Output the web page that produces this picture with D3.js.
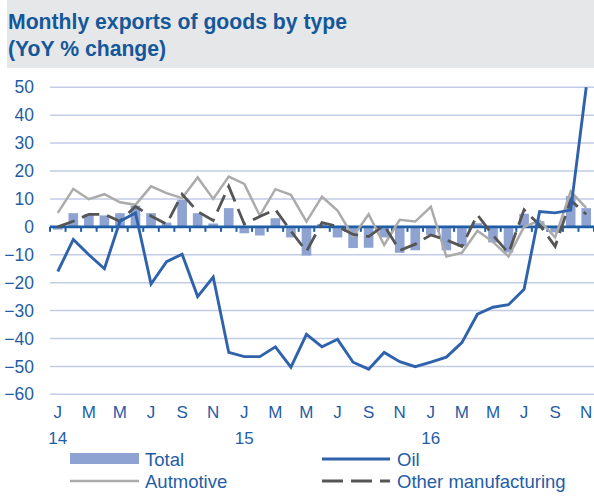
<!DOCTYPE html>
<html>
<head>
<meta charset="utf-8">
<script src="https://cdn.jsdelivr.net/npm/d3@7"></script>
<style>
  html, body { margin: 0; padding: 0; background: #ffffff; }
  svg { display: block; font-family: "Liberation Sans", Arial, sans-serif; }
</style>
</head>
<body>
<svg id="chart" width="594" height="501"></svg>
<script>
// Monthly year-on-year % change, Jan 2014 .. Nov 2016
const months = d3.range(35).map(i => new Date(2014, i, 1));
const monthLetters = ["J","F","M","A","M","J","J","A","S","O","N","D"];

const total = [-1, 4.9, 4.5, 4.1, 4.9, 7.6, 4.9, 1.5, 9.7, 4.9, 1.2, 6.7,
               -2.3, -3.1, 3.1, -3.8, -10.3, 1, -3.8, -7.6, -7.5, -3.8, -9.3, -8.4,
               -2.9, -8.4, -7, 1.3, -5.6, -9.2, 4.7, 2, -2, 11, 6.7];
const oil = [-16, -4.5, -10, -15, 2, 5, -20.5, -12.5, -9.8, -25, -18, -45,
             -46.5, -46.5, -43, -50.3, -38.5, -43, -40.3, -48.5, -51, -45, -48.3, -50.1,
             -48.5, -46.7, -41.5, -31.3, -28.8, -27.9, -22.4, 5.5, 5, 6, 50];
const automotive = [5, 13.6, 9.9, 11.7, 8.8, 7.9, 14.5, 12.1, 10.3, 17.7, 10, 18,
                    15.4, 4, 13.5, 11.5, 1.9, 10.8, 5.8, -3.5, 4.5, -6.5, 2.5, 1.9,
                    7.2, -10.6, -9.3, -1.4, -5.4, -10.6, 0, 2.2, -3.8, 12.7, 6.8];
const otherMfg = [0, 2, 4.5, 4.5, 2, 7.3, 3.9, 1, 11.7, 5.5, 2.3, 14.5,
                  1, 3.7, 6.2, -1.5, -8.8, 1.5, 0.2, -2.7, -3.5, 0.5, -8.5, -6.2,
                  -2.9, -4.7, -7, 4.3, -3, -9.4, 6.1, 0.7, -7, 9.5, 4.5];

const yTicks = [50, 40, 30, 20, 10, 0, -10, -20, -30, -40, -50, -60];
const yearLabels = ["14", "15", "16"];

const svg = d3.select("#chart");
const W = 594, H = 501;
const plot = { left: 50, right: 594, top: 87.3, bottom: 394.3 };

const blue = "#1f5da6";
const gridColor = "#c3cbe5";

// title block
svg.append("rect").attr("x", 7).attr("y", 0).attr("width", W - 7).attr("height", 68)
   .attr("fill", "#e6e7e9");
const titleG = svg.append("g").attr("font-size", 21.2).attr("font-weight", "bold").attr("fill", "#14589a");
titleG.append("text").attr("x", 8).attr("y", 28.5).text("Monthly exports of goods by type");
titleG.append("text").attr("x", 8).attr("y", 56).text("(YoY % change)");

const x = d3.scaleBand().domain(d3.range(35)).range([plot.left, plot.right]).paddingInner(0.38).paddingOuter(0.19);
const xc = i => x(i) + x.bandwidth() / 2;
const y = d3.scaleLinear().domain([-60, 50]).range([plot.bottom, plot.top]);

// horizontal gridlines
svg.append("g").selectAll("line").data(yTicks.filter(v => v !== 0)).join("line")
   .attr("x1", plot.left).attr("x2", plot.right)
   .attr("y1", d => y(d)).attr("y2", d => y(d))
   .attr("stroke", gridColor).attr("stroke-width", 1.5);

// y axis labels
const yAxis = d3.axisLeft(y).tickValues(yTicks).tickSize(0).tickPadding(0);
const gy = svg.append("g").attr("transform", `translate(${34},0)`).call(yAxis);
gy.select(".domain").remove();
gy.selectAll("text").attr("fill", blue).attr("font-size", 17.5)
  .attr("font-family", "Liberation Sans, Arial, sans-serif");

// total bars
svg.append("g").selectAll("rect").data(total).join("rect")
   .attr("x", (d, i) => x(i))
   .attr("width", x.bandwidth())
   .attr("y", d => y(Math.max(0, d)))
   .attr("height", d => Math.abs(y(d) - y(0)))
   .attr("fill", "#8fa3d2");

// zero axis with ticks at category boundaries
const x0 = d3.scaleLinear().domain([0, 35]).range([plot.left, plot.right]);
const gz = svg.append("g");
gz.append("line").attr("x1", plot.left).attr("x2", plot.right)
  .attr("y1", y(0)).attr("y2", y(0)).attr("stroke", blue).attr("stroke-width", 2.6);
gz.selectAll("line.tick").data(d3.range(36)).join("line").attr("class", "tick")
  .attr("x1", d => x0(d)).attr("x2", d => x0(d))
  .attr("y1", y(0)).attr("y2", y(0) + 5)
  .attr("stroke", blue).attr("stroke-width", 2);

// series lines
const line = arr => d3.line().x((d, i) => xc(i)).y(d => y(d))(arr);
svg.append("path").attr("d", line(automotive)).attr("fill", "none")
   .attr("stroke", "#ababab").attr("stroke-width", 2.5);
svg.append("path").attr("d", line(otherMfg)).attr("fill", "none")
   .attr("stroke", "#555555").attr("stroke-width", 2.8).attr("stroke-dasharray", "18,8");
svg.append("path").attr("d", line(oil)).attr("fill", "none")
   .attr("stroke", "#2f62ac").attr("stroke-width", 2.9);

// x axis labels: every second month, year under January
const gx = svg.append("g").attr("font-size", 17).attr("fill", blue);
gx.selectAll("text.m").data(d3.range(0, 35, 2)).join("text").attr("class", "m")
  .attr("x", d => xc(d)).attr("y", 418).attr("text-anchor", "middle")
  .text(d => monthLetters[months[d].getMonth()]);
gx.selectAll("text.yr").data(yearLabels).join("text").attr("class", "yr")
  .attr("x", (d, k) => xc(k * 12)).attr("y", 444).attr("text-anchor", "middle")
  .text(d => d);

// legend
const lg = svg.append("g").attr("font-size", 18.5).attr("fill", blue);
lg.append("rect").attr("x", 70).attr("y", 453).attr("width", 69).attr("height", 11).attr("fill", "#8fa3d2");
lg.append("text").attr("x", 145).attr("y", 466).text("Total");
lg.append("line").attr("x1", 322).attr("x2", 390).attr("y1", 459).attr("y2", 459)
  .attr("stroke", "#2f62ac").attr("stroke-width", 2.9);
lg.append("text").attr("x", 397).attr("y", 466).text("Oil");
lg.append("line").attr("x1", 70).attr("x2", 139).attr("y1", 481).attr("y2", 481)
  .attr("stroke", "#ababab").attr("stroke-width", 2.5);
lg.append("text").attr("x", 145).attr("y", 488).text("Autmotive");
lg.append("line").attr("x1", 322).attr("x2", 390).attr("y1", 481).attr("y2", 481)
  .attr("stroke", "#555555").attr("stroke-width", 2.8).attr("stroke-dasharray", "21,8");
lg.append("text").attr("x", 397).attr("y", 488).text("Other manufacturing");
</script>
</body>
</html>
